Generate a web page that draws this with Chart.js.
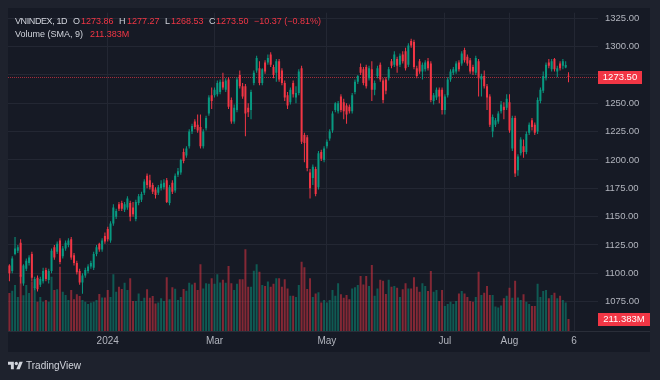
<!DOCTYPE html>
<html><head><meta charset="utf-8">
<script src="https://cdn.jsdelivr.net/npm/chart.js@4.4.0/dist/chart.umd.min.js"></script>
<style>
html,body{margin:0;padding:0;background:#1e222d;}
#wrap{position:relative;width:660px;height:380px;overflow:hidden;background:#1e222d;}
#pane{position:absolute;left:8px;top:8px;width:642px;height:344px;background:#161a25;}
canvas{position:absolute;left:0;top:0;}
.t{position:absolute;font-family:"Liberation Sans",Arial,sans-serif;font-size:9px;line-height:12px;white-space:nowrap;color:#d1d4dc;}
.r{color:#f23645;}
</style></head>
<body>
<div id="wrap">
<div id="pane"></div>
<canvas id="c" width="660" height="380"></canvas>
<div class="t" style="left:15px;top:15px;letter-spacing:-0.4px">VNINDEX, 1D</div>
<div class="t" style="left:73px;top:15px">O</div><div class="t r" id="vO" style="left:81px;top:15px"></div>
<div class="t" style="left:119px;top:15px">H</div><div class="t r" id="vH" style="left:127px;top:15px"></div>
<div class="t" style="left:165px;top:15px">L</div><div class="t r" id="vL" style="left:171px;top:15px"></div>
<div class="t" style="left:209px;top:15px">C</div><div class="t r" id="vC" style="left:216px;top:15px"></div>
<div class="t r" id="vChg" style="left:254px;top:15px"></div>
<div class="t" style="left:15px;top:28px">Volume (SMA, 9)</div><div class="t r" id="vVol" style="left:90px;top:28px"></div>
<svg style="position:absolute;left:8px;top:360px" width="15" height="12" viewBox="0 0 36 28"><path fill="#d1d4dc" d="M14 22H7V11H0V4h14v18zM28 22h-8l7.5-18h8L28 22z"/><circle fill="#d1d4dc" cx="20" cy="8" r="4"/></svg>
<div class="t" style="left:26px;top:360px;font-size:10px;">TradingView</div>
</div>
<script>
// ---- data ----
const opens = [1107,1102,1117,1120,1127,1091,1104,1109,1117,1087,
1096,1090,1093,1103,1094,1102,1123,1119,1129,1115,
1122,1125,1130,1116,1109,1102,1092,1098,1102,1106,
1105,1117,1126,1121,1133,1139,1129,1144,1150,1161,
1162,1156,1158,1162,1158,1148,1162,1165,1171,1186,
1182,1178,1174,1171,1175,1176,1182,1162,1180,1173,
1187,1189,1207,1204,1212,1225,1234,1231,1229,1212,
1228,1241,1257,1257,1258,1260,1269,1262,1271,1253,
1234,1244,1275,1265,1265,1246,1244,1268,1279,1281,
1268,1286,1286,1293,1282,1277,1287,1279,1268,1257,
1251,1268,1255,1259,1281,1222,1220,1189,1184,1192,
1176,1207,1200,1212,1219,1226,1244,1243,1256,1251,
1248,1247,1243,1260,1269,1282,1280,1282,1272,1280,
1262,1274,1284,1270,1271,1272,1287,1284,1289,1284,
1293,1296,1284,1305,1304,1281,1287,1278,1280,1287,
1285,1252,1255,1262,1262,1244,1257,1271,1277,1278,
1286,1285,1297,1291,1288,1282,1277,1287,1271,1274,
1265,1256,1225,1231,1234,1243,1247,1246,1251,1210,
1237,1191,1206,1212,1207,1224,1235,1231,1225,1252,
1261,1272,1286,1280,1289,1278,1285,1283,1281.5,1273.86];
const highs = [1108,1115,1132,1125,1130,1108,1113,1116,1119,1097,
1098,1097,1105,1105,1104,1122,1125,1128,1131,1124,
1129,1131,1132,1118,1111,1104,1100,1105,1108,1111,
1119,1125,1127,1131,1136,1141,1146,1161,1157,1163,
1164,1163,1168,1164,1163,1165,1170,1172,1183,1188,
1187,1180,1176,1178,1182,1183,1184,1178,1182,1188,
1193,1201,1210,1212,1227,1232,1236,1240,1240,1227,
1239,1257,1264,1264,1270,1271,1277,1272,1273,1255,
1249,1273,1279,1268,1267,1250,1262,1279,1292,1287,
1281,1288,1293,1295,1284,1289,1289,1281,1270,1260,
1264,1270,1265,1280,1283,1224,1222,1192,1196,1194,
1208,1209,1212,1218,1227,1243,1251,1252,1258,1254,
1250,1249,1259,1271,1275,1285,1282,1284,1283,1287,
1270,1283,1286,1272,1273,1282,1289,1296,1291,1294,
1296,1299,1303,1307,1306,1283,1289,1286,1288,1290,
1287,1259,1264,1264,1264,1258,1273,1280,1282,1287,
1288,1296,1299,1293,1290,1284,1292,1289,1276,1279,
1267,1258,1240,1237,1243,1252,1251,1258,1258,1239,
1239,1205,1220,1218,1225,1233,1237,1233,1255,1264,
1278,1286,1289,1289,1290,1283,1287,1289,1287,1277.27];
const lows = [1093,1100,1116,1118,1091,1089,1102,1107,1093,1085,
1084,1088,1091,1093,1091,1100,1112,1117,1108,1113,
1120,1123,1112,1107,1099,1090,1082,1096,1100,1104,
1103,1115,1119,1119,1126,1128,1127,1142,1148,1155,
1155,1154,1156,1146,1150,1146,1160,1163,1169,1175,
1174,1170,1166,1169,1173,1174,1162,1160,1170,1171,
1185,1187,1197,1202,1210,1223,1227,1224,1210,1210,
1226,1239,1245,1255,1256,1258,1262,1260,1245,1232,
1232,1242,1263,1254,1221,1238,1236,1266,1277,1266,
1266,1276,1284,1282,1272,1269,1269,1266,1252,1245,
1249,1255,1250,1257,1214,1198,1190,1166,1178,1168,
1174,1199,1198,1210,1217,1224,1242,1241,1242,1236,
1232,1241,1241,1258,1267,1275,1266,1263,1270,1252,
1257,1272,1269,1250,1258,1270,1281,1282,1277,1282,
1285,1279,1282,1299,1280,1272,1276,1271,1278,1279,
1251,1249,1253,1250,1240,1240,1255,1269,1275,1276,
1278,1283,1286,1283,1276,1275,1275,1256,1256,1263,
1244,1229,1220,1229,1232,1241,1236,1244,1224,1208,
1185,1186,1204,1202,1205,1222,1226,1222,1223,1250,
1259,1270,1281,1278,1278,1273,1279,1280,1281,1268.53];
const closes = [1100,1113,1122,1123,1097,1107,1111,1114,1096,1095,
1086,1095,1102,1095,1102,1120,1114,1126,1110,1122,
1127,1129,1114,1109,1101,1092,1098,1103,1106,1109,
1117,1123,1121,1129,1128,1130,1144,1158,1155,1157,
1157,1161,1166,1150,1152,1163,1168,1170,1181,1178,
1176,1172,1169,1176,1179,1180,1163,1176,1172,1186,
1190,1200,1199,1210,1225,1230,1229,1226,1212,1225,
1237,1255,1252,1262,1268,1269,1264,1270,1247,1234,
1246,1271,1265,1256,1241,1242,1260,1277,1290,1268,
1280,1278,1290,1284,1275,1287,1271,1268,1255,1248,
1262,1258,1259,1278,1216,1215,1193,1175,1194,1170,
1206,1201,1210,1216,1225,1241,1250,1250,1244,1243,
1240,1243,1257,1269,1274,1277,1268,1265,1281,1262,
1268,1281,1271,1253,1261,1280,1283,1293,1283,1292,
1287,1281,1301,1301,1282,1274,1278,1284,1286,1281,
1253,1257,1262,1256,1244,1256,1271,1278,1280,1285,
1280,1294,1288,1285,1278,1278,1290,1272,1274,1265,
1255,1231,1238,1235,1241,1249,1244,1254,1226,1237,
1188,1203,1218,1207,1223,1231,1229,1224,1253,1262,
1274,1284,1283,1287,1280,1281,1281,1287,1283.87,1273.50];
// volume in millions of shares
const volumes = [670,710,810,600,985,630,810,670,870,780,
515,600,515,545,515,955,720,735,1130,690,
635,545,720,560,645,615,545,515,475,500,
515,545,650,590,590,720,600,1000,690,780,
740,850,720,930,530,530,660,530,585,735,
585,615,485,500,575,530,945,560,770,745,
545,600,740,710,850,820,850,720,1175,750,
840,830,930,830,1000,855,900,850,1145,840,
720,830,910,910,1440,780,780,1060,1175,1045,
810,790,870,780,830,930,930,780,910,750,
620,620,600,810,1220,1120,740,930,600,660,
680,500,545,500,545,720,620,840,645,585,
635,560,750,770,810,970,820,970,790,1160,
620,750,900,885,650,900,780,790,760,600,
735,840,750,750,945,780,690,840,790,705,
1055,690,720,530,720,440,475,515,475,530,
660,705,660,600,530,515,600,1045,635,675,
790,635,635,430,415,450,575,620,760,585,
885,590,545,645,515,475,440,440,830,600,
705,720,575,635,675,575,620,545,500,211.383];
const priceTicks = [1075,1100,1125,1150,1175,1200,1225,1250,1275,1300,1325];
// time-axis labels keyed by bar number
const timeLabels = {35:'2024', 73:'Mar', 113:'May', 155:'Jul', 178:'Aug', 201:'6'};
const EMPTY_SLOTS = 10; // blank space to the right of the last bar

// ---- styling / geometry ----
const UP = '#089981', DOWN = '#f23645';
const UP_V = 'rgba(8,153,129,0.5)', DOWN_V = 'rgba(242,54,69,0.5)';
const GRID = '#232733';
const TXT = '#b2b5be';
const PANE_TOP = 8;          // wanted top of the plotting area
const Y_REF = 1300, Y_REF_PX = 46.6, PX_PER_25 = 28.34; // price scale calibration
const VOL_PER_PX = 17.6;     // millions per pixel of the volume overlay

const n = closes.length;
const slots = Array.from({length: n + EMPTY_SLOTS}, (_, i) => i);
const isUp = i => closes[i] >= opens[i];
const wickData = lows.map((l, i) => [l, highs[i]]);
const bodyData = opens.map((o, i) => [o, closes[i]]);

// legend texts from the data
const fmt = v => v.toFixed(2);
const last = n - 1;
document.getElementById('vO').textContent = fmt(opens[last]);
document.getElementById('vH').textContent = fmt(highs[last]);
document.getElementById('vL').textContent = fmt(lows[last]);
document.getElementById('vC').textContent = fmt(closes[last]);
const chg = closes[last] - closes[last - 1];
const pct = chg / closes[last - 1] * 100;
const sgn = v => (v < 0 ? '\u2212' : '+') + Math.abs(v).toFixed(2);
document.getElementById('vChg').textContent = sgn(chg) + ' (' + sgn(pct) + '%)';
document.getElementById('vVol').textContent = volumes[last].toFixed(3) + 'M';

const tagPlugin = {
  id: 'tags',
  beforeDatasetsDraw(chart) {
    const {ctx, chartArea: a, scales} = chart;
    const y = Math.round(scales.y.getPixelForValue(closes[last])) + 0.5;
    ctx.save();
    ctx.strokeStyle = 'rgba(242,54,69,0.65)';
    ctx.lineWidth = 1;
    ctx.setLineDash([1, 1]);
    ctx.beginPath(); ctx.moveTo(a.left, y); ctx.lineTo(a.right, y); ctx.stroke();
    ctx.restore();
  },
  afterDraw(chart) {
    const {ctx, chartArea: a, scales} = chart;
    ctx.save();
    ctx.strokeStyle = '#2a2e39';
    ctx.beginPath(); ctx.moveTo(8, a.bottom + 0.5); ctx.lineTo(650, a.bottom + 0.5); ctx.stroke();
    ctx.font = '9.5px "Liberation Sans", Arial, sans-serif';
    ctx.textBaseline = 'middle';
    ctx.textAlign = 'center';
    const tag = (text, yc) => {
      const w = Math.round(ctx.measureText(text).width) + 10;
      ctx.fillStyle = DOWN;
      ctx.fillRect(a.right, Math.round(yc) - 6, w, 13);
      ctx.fillStyle = '#ffffff';
      ctx.fillText(text, a.right + w / 2, Math.round(yc) + 0.5);
    };
    tag(fmt(closes[last]), scales.y.getPixelForValue(closes[last]));
    tag(volumes[last].toFixed(3) + 'M', scales.yv.getPixelForValue(volumes[last]));
    ctx.restore();
  }
};

const common = {grouped: false, borderWidth: 0, borderSkipped: false, inflateAmount: 0};
const chart = new Chart(document.getElementById('c'), {
  type: 'bar',
  data: {
    labels: slots,
    datasets: [
      Object.assign({label: 'Volume', data: volumes, yAxisID: 'yv', barThickness: 2, order: 3,
        backgroundColor: c => isUp(c.dataIndex) ? UP_V : DOWN_V}, common),
      Object.assign({label: 'Wick', data: wickData, yAxisID: 'y', barThickness: 1, order: 2,
        backgroundColor: c => isUp(c.dataIndex) ? UP : DOWN}, common),
      Object.assign({label: 'Body', data: bodyData, yAxisID: 'y', barThickness: 2, minBarLength: 1, order: 1,
        backgroundColor: c => isUp(c.dataIndex) ? UP : DOWN}, common)
    ]
  },
  options: {
    responsive: false, animation: false, devicePixelRatio: 1,
    layout: {padding: {left: 8, top: PANE_TOP, right: 10, bottom: 28}},
    plugins: {legend: {display: false}, tooltip: {enabled: false}},
    scales: {
      x: {
        type: 'category', offset: true,
        grid: {offset: false, drawTicks: false, color: c => timeLabels[c.index] ? GRID : 'rgba(0,0,0,0)'},
        border: {display: false},
        ticks: {autoSkip: false, maxRotation: 0, padding: 4, color: TXT,
          font: {family: '"Liberation Sans", Arial, sans-serif', size: 10},
          callback: (v, i) => timeLabels[i] || ''},
        afterFit: s => { s.height = 21; }
      },
      y: {
        position: 'right', min: 1049, max: 1334,
        afterBuildTicks: s => { s.ticks = priceTicks.map(v => ({value: v})); },
        grid: {color: GRID, drawTicks: false},
        border: {display: false},
        ticks: {padding: 7, color: TXT, font: {family: '"Liberation Sans", Arial, sans-serif', size: 9.5},
          callback: v => Number(v).toFixed(2)},
        afterFit: s => { s.width = 52; }
      },
      yv: {display: false, min: 0, max: 5685}
    }
  },
  plugins: [tagPlugin]
});

// bring the plotting area top back to PANE_TOP (label half-heights push it down)
const extra = chart.chartArea.top - PANE_TOP;
if (extra > 0) {
  chart.options.layout.padding.top = Math.max(0, PANE_TOP - extra);
  chart.update();
}
// calibrate the value ranges to the reference's pixel scale
const a = chart.chartArea;
const ppx = 25 / PX_PER_25;
chart.options.scales.y.max = Y_REF + (Y_REF_PX - a.top) * ppx;
chart.options.scales.y.min = Y_REF - (a.bottom - Y_REF_PX) * ppx;
chart.options.scales.yv.max = (a.bottom - a.top) * VOL_PER_PX;
chart.update();
</script>
</body></html>
